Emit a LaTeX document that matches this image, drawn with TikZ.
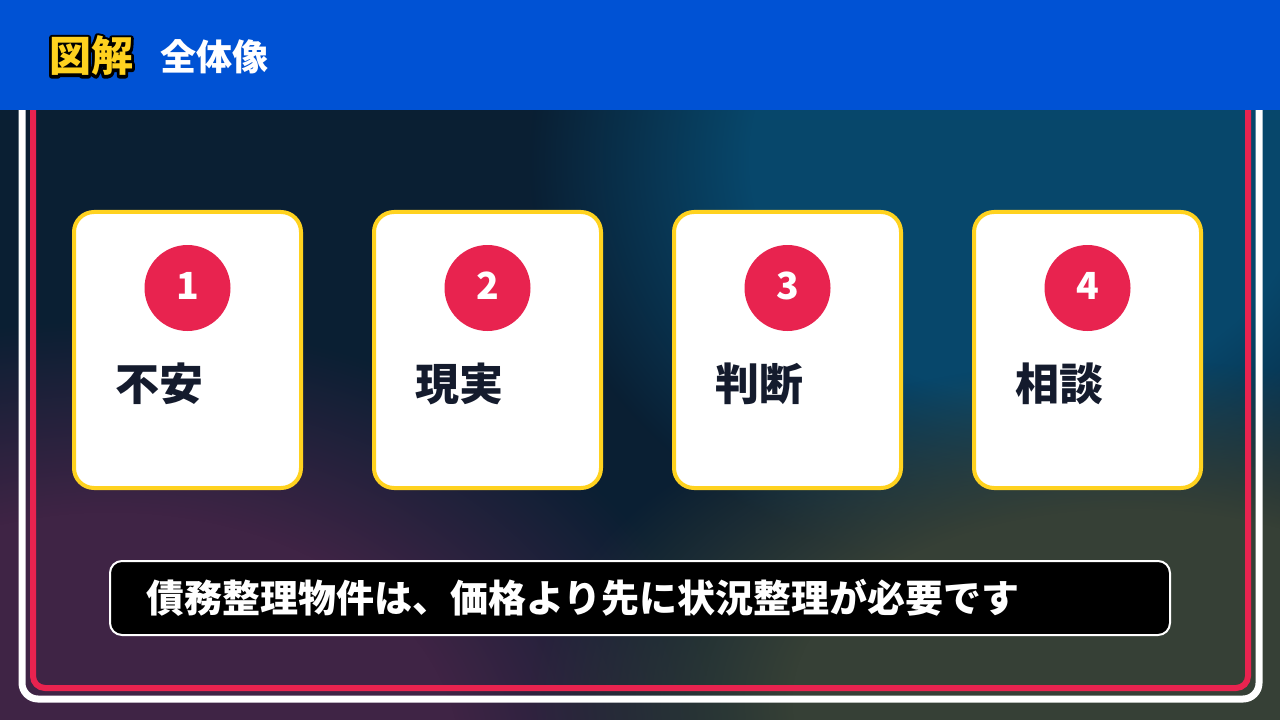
\documentclass[tikz,border=0pt]{standalone}
\usepackage{fontspec}
\setmainfont{Noto Sans CJK JP}
\usetikzlibrary{fadings}
\definecolor{bgnavy}{HTML}{0A1F33}
\definecolor{tealblob}{HTML}{07476B}
\definecolor{purpleblob}{HTML}{3F2445}
\definecolor{oliveblob}{HTML}{364036}
\definecolor{topblue}{HTML}{0052D4}
\definecolor{accentred}{HTML}{E8234F}
\definecolor{cardyellow}{HTML}{FFD21F}
\definecolor{inkdark}{HTML}{141B2D}
\pgfdeclareradialshading{softblobshade}{\pgfpointorigin}{color(0bp)=(white); color(14bp)=(white); color(25bp)=(black); color(50bp)=(black)}
\pgfdeclarefading{softblob}{\pgfuseshading{softblobshade}}
\newcommand{\strokeonly}[1]{\special{pdf:code q 1 Tr 0 0 0 RG 4.2 w 1 j}#1\special{pdf:code Q}}
\tikzset{
  cardbox/.style={draw=cardyellow, line width=3pt, fill=white, rounded corners=15pt,
    minimum width=170.25pt, minimum height=207pt, inner sep=0pt},
  numdisc/.style={circle, fill=accentred, minimum size=64.5pt, inner sep=0pt,
    text=white, font=\fontsize{28}{30}\selectfont\bfseries},
  cardlabel/.style={anchor=west, inner sep=0pt, text=inkdark,
    font=\fontsize{33}{38}\selectfont\bfseries},
  msgbox/.style={draw=white, line width=1.5pt, fill=black, rounded corners=9pt,
    minimum width=795pt, minimum height=55.5pt, inner sep=0pt},
  msgtext/.style={anchor=west, inner sep=0pt, text=white,
    font=\fontsize{28.5}{32}\selectfont\bfseries},
  titletext/.style={inner sep=0pt, font=\fontsize{31.5}{36}\selectfont\bfseries},
  subtitletext/.style={anchor=west, inner sep=0pt, text=white,
    font=\fontsize{27}{32}\selectfont\bfseries},
}
\begin{document}
\begin{tikzpicture}[x=0.75pt,y=-0.75pt]
\useasboundingbox (0,0) rectangle (1280,720);
% background
\fill[bgnavy] (0,0) rectangle (1280,720);
\begin{scope}
\clip (0,0) rectangle (1280,720);
\fill[tealblob, path fading=softblob] (1030,160) ellipse [x radius=500, y radius=420];
\fill[purpleblob, path fading=softblob] (110,760) ellipse [x radius=620, y radius=440];
\fill[oliveblob, path fading=softblob] (1130,700) ellipse [x radius=600, y radius=340];
\end{scope}
% frame
\draw[white, line width=5.25pt, rounded corners=12pt] (22,-40) rectangle (1259,699);
\draw[accentred, line width=4.5pt, rounded corners=9pt] (33,-40) rectangle (1248,688);
% top bar
\fill[topblue] (0,0) rectangle (1280,110);
\node[titletext, text=cardyellow] (title) at (91,56) {\rlap{\strokeonly{図解}}図解};
\node[subtitletext] (subtitle) at (160,57) {全体像};
% cards
\foreach \i/\cx/\lab in {1/187.5/不安, 2/487.5/現実, 3/787.5/判断, 4/1087.5/相談}{
  \node[cardbox] (card\i) at (\cx,350) {};
  \node[numdisc] (num\i) at (\cx,288) {\raisebox{3pt}{\i}};
  \node[cardlabel] (lab\i) at (\cx-72.5,384) {\lab};
}
% message
\node[msgbox] (msg) at (640,598) {};
\node[msgtext] (msgtxt) at (146,598) {債務整理物件は、価格より先に状況整理が必要です};
\end{tikzpicture}
\end{document}
